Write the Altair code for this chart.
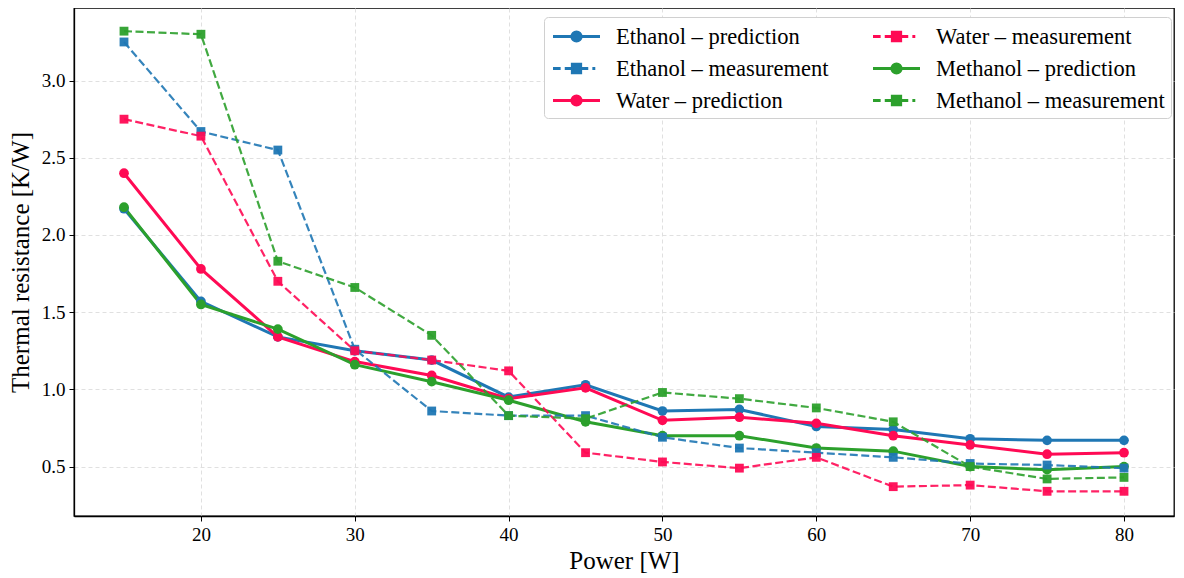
import altair as alt
import pandas as pd

power = [15, 20, 25, 30, 35, 40, 45, 50, 55, 60, 65, 70, 75, 80]

ethanol_pred = [2.17, 1.57, 1.34, 1.25, 1.19, 0.95, 1.03, 0.86, 0.87, 0.76, 0.74, 0.68, 0.67, 0.67]
ethanol_meas = [3.25, 2.67, 2.55, 1.26, 0.86, 0.83, 0.83, 0.69, 0.62, 0.59, 0.56, 0.52, 0.51, 0.49]
water_pred = [2.40, 1.78, 1.34, 1.18, 1.09, 0.94, 1.01, 0.80, 0.82, 0.78, 0.70, 0.64, 0.58, 0.59]
water_meas = [2.75, 2.64, 1.70, 1.25, 1.19, 1.12, 0.59, 0.53, 0.49, 0.56, 0.37, 0.38, 0.34, 0.34]
methanol_pred = [2.18, 1.55, 1.39, 1.16, 1.05, 0.93, 0.79, 0.70, 0.70, 0.62, 0.60, 0.50, 0.48, 0.50]
methanol_meas = [3.32, 3.30, 1.83, 1.66, 1.35, 0.83, 0.81, 0.98, 0.94, 0.88, 0.79, 0.50, 0.42, 0.43]

series_names = [
    "Ethanol – prediction", "Ethanol – measurement",
    "Water – prediction", "Water – measurement",
    "Methanol – prediction", "Methanol – measurement",
]
series_values = [ethanol_pred, ethanol_meas, water_pred, water_meas, methanol_pred, methanol_meas]
series_colors = ["#1f77b4", "#1f77b4", "#ff0a54", "#ff0a54", "#2ca02c", "#2ca02c"]
series_kind = ["prediction", "measurement"] * 3

rows = []
for name, vals, kind in zip(series_names, series_values, series_kind):
    for p, v in zip(power, vals):
        rows.append({"Power": p, "R": v, "series": name, "kind": kind})
df = pd.DataFrame(rows)

SERIF = "Liberation Serif, Times New Roman, serif"

# legend symbols: line + marker as custom paths
circ = "M-2,0L2,0M-0.4,0A0.4,0.4 0 1,1 0.4,0A0.4,0.4 0 1,1 -0.4,0Z"
sq = ("M-2,0L-1.35,0M-1.0,0L-0.36,0M0.36,0L1.0,0M1.35,0L1.6,0"
      "M-0.36,-0.36L0.36,-0.36L0.36,0.36L-0.36,0.36Z")
legend_shapes = [circ if k == "prediction" else sq for k in series_kind]

xscale = alt.Scale(domain=[11.75, 83.25], nice=False, zero=False)
yscale = alt.Scale(domain=[0.18, 3.47], nice=False, zero=False)
cscale = alt.Scale(domain=series_names, range=series_colors)

xax = alt.Axis(values=[20, 30, 40, 50, 60, 70, 80], title="Power [W]", format="d")
yax = alt.Axis(values=[0.5, 1.0, 1.5, 2.0, 2.5, 3.0], title="Thermal resistance [K/W]", format=".1f")

pred = df[df.kind == "prediction"]
meas = df[df.kind == "measurement"]

pred_line = alt.Chart(pred).mark_line(strokeWidth=3).encode(
    x=alt.X("Power:Q", scale=xscale, axis=xax),
    y=alt.Y("R:Q", scale=yscale, axis=yax),
    color=alt.Color("series:N", scale=cscale, legend=None),
    detail="series:N",
)
pred_pts = alt.Chart(pred).mark_point(filled=True, opacity=1, size=95, shape="circle").encode(
    x=alt.X("Power:Q", scale=xscale),
    y=alt.Y("R:Q", scale=yscale),
    color=alt.Color("series:N", scale=cscale, legend=None),
)
meas_line = alt.Chart(meas).mark_line(strokeWidth=2.2, strokeDash=[8, 3.5], opacity=0.9).encode(
    x=alt.X("Power:Q", scale=xscale),
    y=alt.Y("R:Q", scale=yscale),
    color=alt.Color("series:N", scale=cscale, legend=None),
    detail="series:N",
)
meas_pts = alt.Chart(meas).mark_point(filled=True, opacity=0.95, size=78, shape="square").encode(
    x=alt.X("Power:Q", scale=xscale),
    y=alt.Y("R:Q", scale=yscale),
    color=alt.Color("series:N", scale=cscale, legend=None),
)

leg_cscale = alt.Scale(domain=series_names, range=series_colors)
legend_layer = alt.Chart(df).mark_point(filled=True, opacity=1, strokeWidth=2.8).encode(
    x=alt.X("Power:Q", scale=xscale),
    y=alt.Y("R:Q", scale=yscale),
    color=alt.Color(
        "series:N",
        scale=leg_cscale,
        legend=alt.Legend(
            title=None, orient="none", legendX=470, legendY=9, columns=2,
            columnPadding=38, rowPadding=7, symbolSize=552, symbolStrokeWidth=2.8,
            labelFont=SERIF, labelFontSize=22.5, labelColor="#000",
            labelOffset=26, labelLimit=400, symbolOffset=13,
            fillColor="white", strokeColor="#d0d0d0", cornerRadius=4, padding=6,
            direction="vertical",
        ),
    ),
    stroke=alt.Stroke("series:N", scale=leg_cscale),
    shape=alt.Shape("series:N", scale=alt.Scale(domain=series_names, range=legend_shapes)),
).transform_filter("datum.R < -100")

chart = alt.layer(pred_line, meas_line, pred_pts, meas_pts, legend_layer).resolve_scale(
    color="independent", shape="independent", stroke="independent"
).properties(
    width=1100, height=508,
    autosize=alt.AutoSizeParams(type="none"),
    padding={"left": 66, "top": 0, "right": 2, "bottom": 62},
).configure_view(
    stroke="black", strokeWidth=1.3
).configure_axis(
    labelFont=SERIF, labelFontSize=19, labelColor="#000",
    titleFont=SERIF, titleFontSize=25, titleFontWeight="normal", titleColor="#000",
    grid=True, gridColor="#dddddd", gridDash=[4, 3], gridWidth=0.9,
    domainColor="black", domainWidth=1.3, tickColor="black", tickSize=5, tickWidth=1,
    labelPadding=4,
).configure_axisX(titlePadding=4).configure_axisY(titlePadding=8)

chart.save("out.html", embed_options={"renderer": "svg", "actions": False})
